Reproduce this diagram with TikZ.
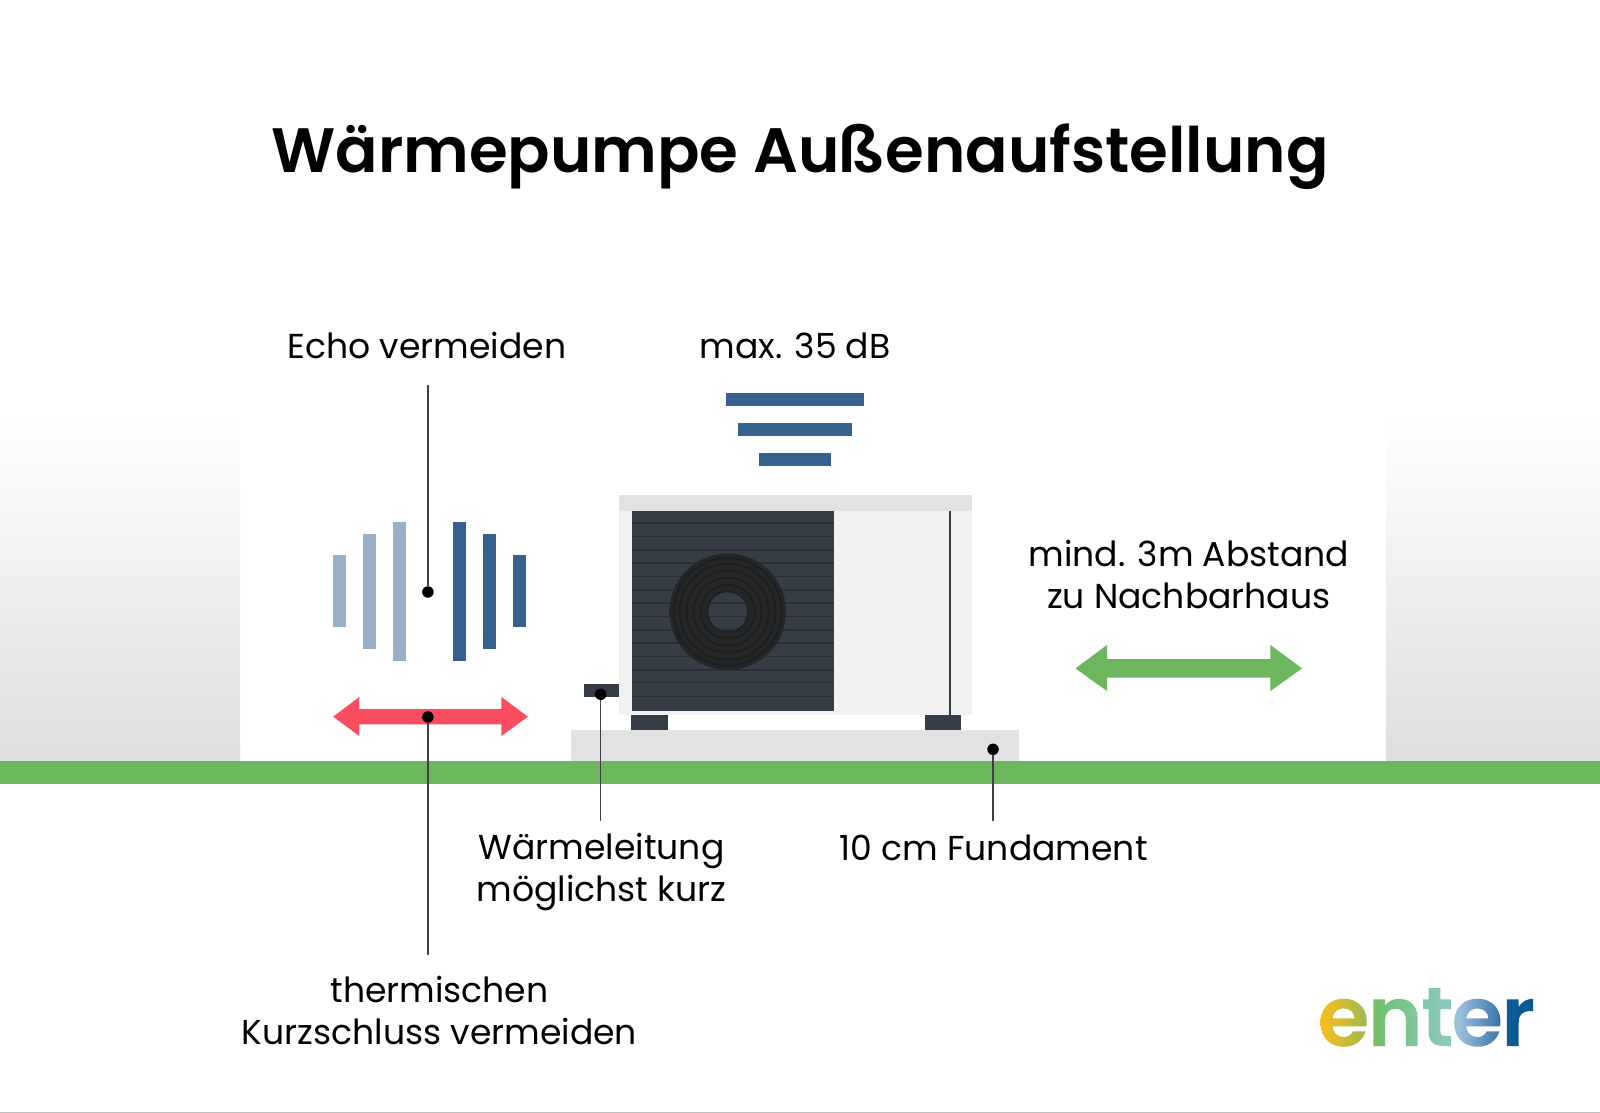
\documentclass[tikz,border=0pt]{standalone}
\usepackage{fontspec}
\setmainfont{Poppins}
\newfontfamily\titelfont{Poppins SemiBold}
\newfontfamily\logofont[LetterSpace=-2.5]{Poppins SemiBold}
\definecolor{gruen}{HTML}{6CB75E}
\definecolor{rot}{HTML}{FB4D60}
\definecolor{blau}{HTML}{35618C}
\definecolor{hellblau}{HTML}{9AAEC6}
\definecolor{grau}{HTML}{E2E2E2}
\definecolor{gehaeuse}{HTML}{F1F1F1}
\definecolor{gitter}{HTML}{373D47}
\definecolor{rippe}{HTML}{2A2E36}
\definecolor{luefter}{HTML}{242527}
\definecolor{ring}{HTML}{1C1D1F}
\definecolor{logoa}{HTML}{FBBD1E}
\definecolor{logob}{HTML}{9CBA4F}
\definecolor{logoc}{HTML}{72BF6E}
\definecolor{logod}{HTML}{82C7A4}
\definecolor{logoe}{HTML}{8CC8C0}
\definecolor{logof}{HTML}{9CBFDC}
\definecolor{logog}{HTML}{3F78AD}
\definecolor{logoh}{HTML}{0F5C96}
\definecolor{logoi}{HTML}{005A92}
\pgfdeclarehorizontalshading{logoverlauf}{100bp}{
  color(0bp)=(logoa);color(25bp)=(logoa);color(36bp)=(logob);color(38bp)=(logoc);
  color(48bp)=(logod);color(55bp)=(logoe);color(57bp)=(logof);
  color(66bp)=(logog);color(68bp)=(logoh);color(75bp)=(logoi);color(100bp)=(logoi)}
\tikzset{
  beschriftung/.style={font=\fontsize{34.6}{42}\selectfont,align=center,text=black,inner sep=0pt},
  leader/.style={line width=1.4pt,draw=black!75},
  punkt/.style={circle,fill=black,inner sep=0pt,minimum size=11.5pt},
}
\begin{document}
\begin{tikzpicture}[x=1pt,y=-1pt]
  \useasboundingbox (0,0) rectangle (1600,1113);
  \fill[white] (0,0) rectangle (1600,1113);
  % Hintergrund und Boden
  \shade[top color=white,bottom color=black!13] (0,415) rectangle (240,761);
  \shade[top color=white,bottom color=black!13] (1386,415) rectangle (1600,761);
  \fill[grau] (571,730) rectangle (1019,761);
  \fill[gruen] (0,761) rectangle (1600,784);
  \draw[black!25,line width=1pt] (0,1112.5)--(1600,1112.5);
  % Waermepumpe
  \fill[gehaeuse] (619,495) rectangle (972,715);
  \fill[grau] (619,495) rectangle (972,511);
  \fill[gitter] (631.5,510.5) rectangle (834,710.5);
  \foreach \y in {523,536.5,550,563,576.5,590,603,616.5,630,643,656.5,670,682.5,696.5}
    \draw[rippe,line width=1.7pt] (631.5,\y)--(834,\y);
  \fill[luefter] (727.7,611.7) circle (58.3);
  \foreach \r in {20,27,34,41,48,54}
    \draw[ring,line width=1.5pt] (727.7,611.7) circle (\r);
  \begin{scope}
    \clip (727.7,611.7) circle (19.5);
    \fill[gitter] (700,590) rectangle (760,640);
    \foreach \y in {603,616.5,630}
      \draw[rippe,line width=1.7pt] (700,\y)--(760,\y);
  \end{scope}
  \draw[gitter,line width=2.2pt] (950.3,511)--(950.3,715);
  \fill[gitter] (631.3,715) rectangle (667.7,730);
  \fill[gitter] (924.7,715) rectangle (961,730);
  \fill[gitter] (583.7,683.7) rectangle (618.7,697);
  % Schallbalken oben
  \fill[blau] (725.5,393) rectangle (864,406);
  \fill[blau] (738,422.5) rectangle (852,436);
  \fill[blau] (759,453) rectangle (830.6,466);
  % Echo
  \fill[hellblau] (332.5,555.3) rectangle (345.7,626.7);
  \fill[hellblau] (362.5,534) rectangle (375.7,648.7);
  \fill[hellblau] (392.5,522) rectangle (405.7,660.7);
  \fill[blau] (453.2,522) rectangle (466.4,660.7);
  \fill[blau] (483.2,534) rectangle (496.4,648.7);
  \fill[blau] (513.2,555.3) rectangle (526.4,626.7);
  % Pfeile
  \fill[rot] (333.2,716.7)--(359.3,697)--(359.3,709)--(501.4,709)--(501.4,697)--(527.9,716.7)
    --(501.4,736)--(501.4,724.3)--(359.3,724.3)--(359.3,736)--cycle;
  \fill[gruen] (1075.5,668.4)--(1107,645)--(1107,659)--(1270.4,659)--(1270.4,645)--(1302,668.4)
    --(1270.4,691)--(1270.4,677.5)--(1107,677.5)--(1107,691)--cycle;
  % Texte
  \node[font=\titelfont\fontsize{62.7}{70}\selectfont,inner sep=0pt,text=black] (titel) at (800,157){Wärmepumpe Außenaufstellung};
  \node[beschriftung] (echo) at (427,345){Echo vermeiden};
  \node[beschriftung] (maxdb) at (795,345.5){max. 35 dB};
  \node[beschriftung] (abstand) at (1188.8,574){mind. 3m Abstand\\zu Nachbarhaus};
  \node[beschriftung] (leitung) at (601.5,872){Wärmeleitung\\möglichst kurz};
  \node[beschriftung] (fundament) at (993.5,848){10 cm Fundament};
  \node[beschriftung] (kurzschluss) at (439.5,1010){thermischen\\Kurzschluss vermeiden};
  % Hinweislinien
  \node[punkt] (pEcho) at (427.9,592){};
  \node[punkt] (pRot) at (427.9,717){};
  \node[punkt] (pLeitung) at (600.7,694.3){};
  \node[punkt] (pFund) at (993,749.3){};
  \coordinate (eEcho) at (427.9,384.7);
  \coordinate (eRot) at (427.9,955);
  \coordinate (eLeitung) at (600.7,821);
  \coordinate (eFund) at (993,821);
  \draw[leader] (pEcho)--(eEcho);
  \draw[leader] (pRot)--(eRot);
  \draw[leader] (pLeitung)--(eLeitung);
  \draw[leader] (pFund)--(eFund);
  % Logo: Text als Clip fuer den Verlauf
  \node[anchor=base west,inner sep=0pt,font=\logofont\fontsize{84}{84}\selectfont] (logo) at (1317,1046){%
    \special{pdf:code q 7 Tr}\rlap{enter}\special{pdf:code 0 Tr}%
    \tikz[overlay,x=1pt,y=1pt]{\shade[shading=logoverlauf] (3,-20) rectangle (219,80);}%
    \special{pdf:code Q}};
\end{tikzpicture}
\end{document}
